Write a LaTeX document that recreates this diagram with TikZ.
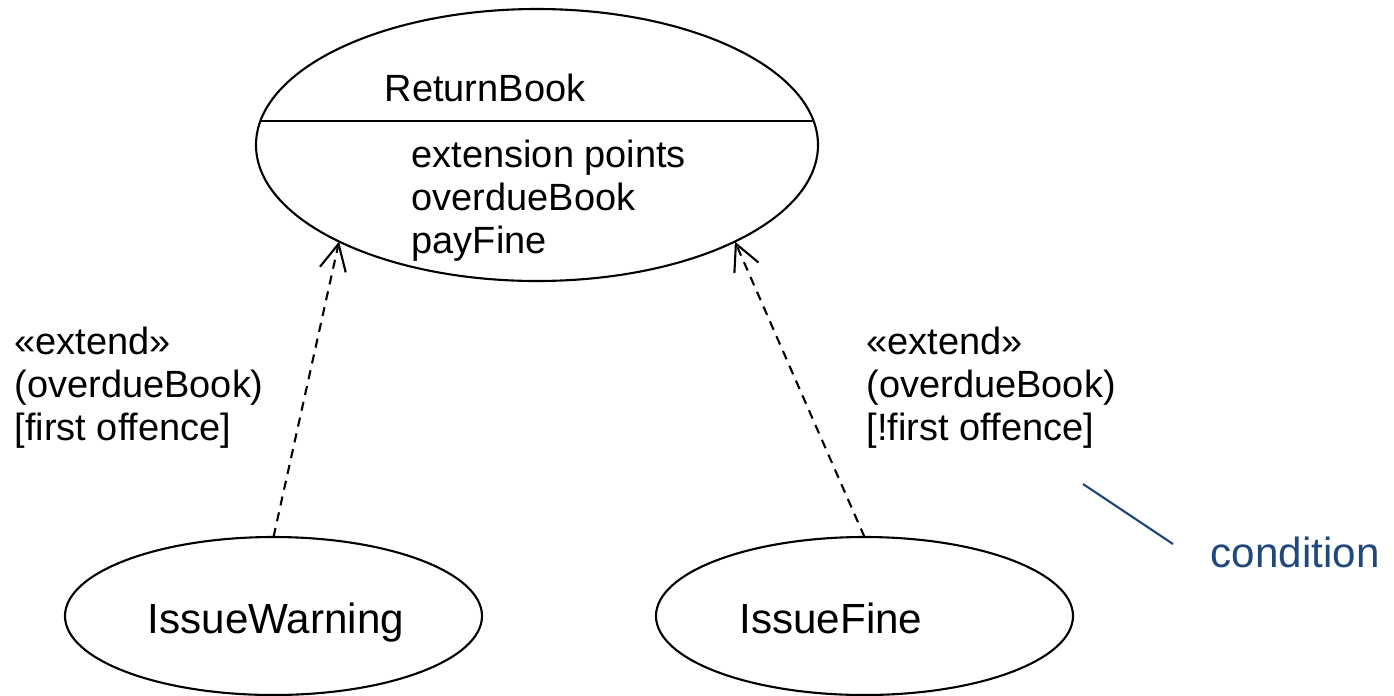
\documentclass[tikz,border=0pt]{standalone}
\usepackage{fontspec}
\setmainfont{Liberation Sans}
\usetikzlibrary{arrows.meta, positioning, shapes.geometric}
\definecolor{notecolor}{HTML}{1F497D}
\tikzset{
  usecase/.style={
    ellipse, draw=black, line width=0.6pt,
    inner sep=0pt, outer sep=0pt
  },
  umltext/.style={
    font=\fontsize{10.8}{12.2}\selectfont, inner sep=0pt, align=left
  },
  bigtext/.style={
    umltext, font=\fontsize{12}{13.6}\selectfont
  },
  extendarrow/.style={
    -{Straight Barb[length=7.5pt, width=7.5pt, line width=0.6pt]},
    line width=0.6pt, dash pattern=on 2.6pt off 2pt
  },
  noteline/.style={line width=0.6pt, color=notecolor}
}

\begin{document}
\begin{tikzpicture}
    \useasboundingbox (0,0) rectangle (13.94,-6.95);

    % base use case with extension points
    \node[usecase, minimum width=5.62cm, minimum height=2.72cm] (RB) at (5.37,-1.45) {};
    \draw[line width=0.6pt] (RB.175) -- (RB.5);
    \node[umltext, anchor=base] (RBname) at (4.85,-1.01) {ReturnBook};
    \node[umltext, anchor=base west] (RBpoints) at (4.11,-2.53) {%
      extension points\\overdueBook\\payFine};

    % extending use cases
    \node[usecase, minimum width=4.17cm, minimum height=1.58cm] (IW) at (2.735,-6.16) {};
    \node[bigtext, anchor=base] (IWname) at (2.76,-6.33) {IssueWarning};
    \node[usecase, minimum width=4.17cm, minimum height=1.58cm] (IF) at (8.645,-6.16) {};
    \node[bigtext, anchor=base] (IFname) at (8.31,-6.33) {IssueFine};

    \draw[extendarrow] (IW.north) -- (RB.206);
    \draw[extendarrow] (IF.north) -- (RB.334);

    % guards
    \node[umltext, anchor=base west] (IWguard) at (0.14,-4.40) {%
      «extend»\\(overdueBook)\\{[first offence]}};
    \node[umltext, anchor=base west] (IFguard) at (8.66,-4.40) {%
      «extend»\\(overdueBook)\\{[!first offence]}};

    % note
    \node[bigtext, anchor=base west, text=notecolor] (cond) at (12.10,-5.67) {condition};
    \coordinate (condend) at (11.73,-5.44);
    \coordinate (condtip) at (10.83,-4.84);
    \draw[noteline] (condend) -- (condtip);
\end{tikzpicture}
\end{document}
